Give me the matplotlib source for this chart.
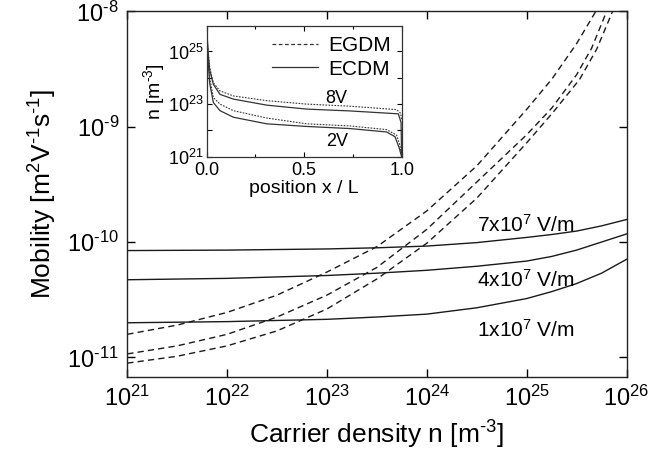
import numpy as np
import matplotlib
matplotlib.use("Agg")
import matplotlib.pyplot as plt
from matplotlib.ticker import LogLocator, NullLocator, FixedLocator, FuncFormatter, FormatStrFormatter
from matplotlib.lines import Line2D

plt.rcParams['font.family'] = ['Liberation Sans', 'DejaVu Sans']
plt.rcParams['mathtext.fontset'] = 'custom'
plt.rcParams['mathtext.rm'] = 'Liberation Sans'
plt.rcParams['mathtext.it'] = 'Liberation Sans:italic'
plt.rcParams['mathtext.default'] = 'regular'

# ---- main panel data (log10 of carrier density n, log10 of mobility) ----
ecdm_logn = [21, 22, 23, 23.5, 24, 24.5, 25, 25.25, 25.5, 25.75, 26]
ecdm_7e7 = [-10.074, -10.07, -10.06, -10.05, -10.035, -10.005, -9.96, -9.935, -9.905, -9.86, -9.805]
ecdm_4e7 = [-10.327, -10.315, -10.29, -10.27, -10.245, -10.21, -10.165, -10.125, -10.07, -10.0, -9.93]
ecdm_1e7 = [-10.70, -10.69, -10.67, -10.65, -10.625, -10.57, -10.49, -10.43, -10.36, -10.27, -10.15]

egdm_top_logn = [21, 21.5, 22, 22.5, 23, 23.5, 24, 24.5, 25, 25.25, 25.5, 25.72]
egdm_top = [-10.80, -10.72, -10.61, -10.46, -10.26, -10.04, -9.73, -9.34, -8.85, -8.59, -8.28, -7.96]
egdm_mid_logn = [21, 21.5, 22, 22.5, 23, 23.5, 24, 24.5, 25, 25.25, 25.5, 25.65, 25.82]
egdm_mid = [-10.97, -10.90, -10.80, -10.65, -10.46, -10.22, -9.89, -9.48, -9.07, -8.84, -8.55, -8.32, -7.96]
egdm_bot_logn = [21, 21.5, 22, 22.5, 23, 23.5, 24, 24.5, 25, 25.26, 25.53, 25.70, 25.88]
egdm_bot = [-11.05, -10.99, -10.90, -10.77, -10.58, -10.32, -10.01, -9.62, -9.14, -8.88, -8.59, -8.33, -7.96]

field_labels = ["7x10$^{7}$ V/m", "4x10$^{7}$ V/m", "1x10$^{7}$ V/m"]

# ---- inset data (position x/L, log10 n) ----
pos_8v_egdm = [0.0, 0.006, 0.015, 0.034, 0.068, 0.137, 0.308, 0.513, 0.735, 0.974, 0.995, 1.0]
logn_8v_egdm = [25.94, 25.1, 24.4, 23.81, 23.5, 23.31, 23.13, 23.0, 22.92, 22.79, 22.65, 22.4]
pos_8v_ecdm = [0.0, 0.006, 0.015, 0.034, 0.068, 0.137, 0.308, 0.513, 0.735, 0.983, 0.997, 1.0]
logn_8v_ecdm = [25.94, 25.05, 24.3, 23.75, 23.37, 23.19, 22.96, 22.81, 22.74, 22.63, 22.3, 21.0]
pos_2v_egdm = [0.0, 0.006, 0.015, 0.034, 0.068, 0.137, 0.308, 0.513, 0.735, 0.923, 0.974, 0.991, 1.0]
logn_2v_egdm = [25.94, 24.9, 24.0, 23.25, 23.0, 22.75, 22.47, 22.25, 22.17, 22.03, 21.82, 21.44, 21.0]
pos_2v_ecdm = [0.0, 0.006, 0.015, 0.034, 0.068, 0.137, 0.308, 0.513, 0.735, 0.923, 0.966, 0.988, 1.0]
logn_2v_ecdm = [25.94, 24.8, 23.8, 23.06, 22.75, 22.5, 22.25, 22.15, 22.07, 21.94, 21.76, 21.32, 21.0]

lc = '#1a1a1a'


def log_label(v, p):
    e = int(round(np.log10(v)))
    s = ("\\text{-}%d" % (-e)) if e < 0 else "%d" % e
    return "$10^{%s}$" % s


fig = plt.figure(figsize=(6.63, 4.62), dpi=100)
ax = fig.add_axes([0.192, 0.184, 0.753, 0.7915])

dash = (0, (4.5, 3.0))
for lx, ly in [(egdm_top_logn, egdm_top), (egdm_mid_logn, egdm_mid), (egdm_bot_logn, egdm_bot)]:
    ax.plot(10.0 ** np.array(lx), 10.0 ** np.array(ly), color=lc, lw=1.0, linestyle=dash)
for ly in [ecdm_7e7, ecdm_4e7, ecdm_1e7]:
    ax.plot(10.0 ** np.array(ecdm_logn), 10.0 ** np.array(ly), color=lc, lw=1.0)

ax.set_xscale('log')
ax.set_yscale('log')
ax.set_xlim(1e21, 1e26)
ax.set_ylim(10 ** -11.17, 1e-8)
ax.xaxis.set_major_locator(LogLocator(base=10, numticks=10))
ax.yaxis.set_major_locator(LogLocator(base=10, numticks=10))
ax.xaxis.set_major_formatter(FuncFormatter(log_label))
ax.yaxis.set_major_formatter(FuncFormatter(log_label))
ax.xaxis.set_minor_locator(NullLocator())
ax.yaxis.set_minor_locator(NullLocator())
ax.tick_params(which='major', direction='in', length=6, width=1.0, top=True, right=True,
               labelsize=17, pad=6)
for s in ax.spines.values():
    s.set_linewidth(1.0)
    s.set_color('#222222')

ax.set_xlabel("Carrier density n [m$^{\\text{-}3}$]", fontsize=19, labelpad=6)
ax.set_ylabel("Mobility [m$^{2}$V$^{\\text{-}1}$s$^{\\text{-}1}$]", fontsize=19, labelpad=6)

for txt, yf in zip(field_labels, [0.4156, 0.265, 0.1285]):
    ax.text(0.798, yf, txt, transform=ax.transAxes, ha='center', va='center', fontsize=15)

# ---- inset ----
ins = fig.add_axes([0.3118, 0.6608, 0.294, 0.283])
dot = (0, (1.5, 1.2))
ic = '#333333'
ins.plot(pos_8v_egdm, 10.0 ** np.array(logn_8v_egdm), color=ic, lw=0.8, linestyle=dot)
ins.plot(pos_2v_egdm, 10.0 ** np.array(logn_2v_egdm), color=ic, lw=0.8, linestyle=dot)
ins.plot(pos_8v_ecdm, 10.0 ** np.array(logn_8v_ecdm), color=ic, lw=0.9)
ins.plot(pos_2v_ecdm, 10.0 ** np.array(logn_2v_ecdm), color=ic, lw=0.9)
ins.set_yscale('log')
ins.set_xlim(0, 1)
ins.set_ylim(1e21, 10 ** 25.97)
ins.yaxis.set_major_locator(FixedLocator([1e21, 1e22, 1e23, 1e24, 1e25]))
ins.yaxis.set_major_formatter(FuncFormatter(
    lambda v, p: log_label(v, p) if int(round(np.log10(v))) % 2 == 1 else ""))
ins.yaxis.set_minor_locator(NullLocator())
ins.xaxis.set_major_locator(FixedLocator([0.0, 0.5, 1.0]))
ins.xaxis.set_minor_locator(FixedLocator([0.25, 0.75]))
ins.xaxis.set_major_formatter(FormatStrFormatter('%.1f'))
ins.tick_params(which='both', direction='in', top=True, right=True, labelsize=13)
ins.tick_params(axis='x', pad=3.5)
ins.tick_params(axis='y', pad=2)
ins.tick_params(which='major', length=3.5, width=0.8)
ins.tick_params(which='minor', length=2.5, width=0.8)
for s in ins.spines.values():
    s.set_linewidth(0.9)
    s.set_color(ic)
ins.set_xlabel("position x / L", fontsize=14, labelpad=1)
ins.set_ylabel("n [m$^{\\text{-}3}$]", fontsize=14, labelpad=1)
ins.text(0.667, 0.447, "8V", transform=ins.transAxes, ha='center', va='center', fontsize=13)
ins.text(0.667, 0.115, "2V", transform=ins.transAxes, ha='center', va='center', fontsize=13)

handles = [Line2D([], [], color=ic, lw=0.9, linestyle=(0, (3, 2))),
           Line2D([], [], color=ic, lw=0.9)]
ins.legend(handles, ["EGDM", "ECDM"], loc='upper right', frameon=False, fontsize=15,
           handlelength=2.2, handletextpad=0.5, borderaxespad=0.1, labelspacing=0.2)

fig.savefig("out.png", dpi=100)
